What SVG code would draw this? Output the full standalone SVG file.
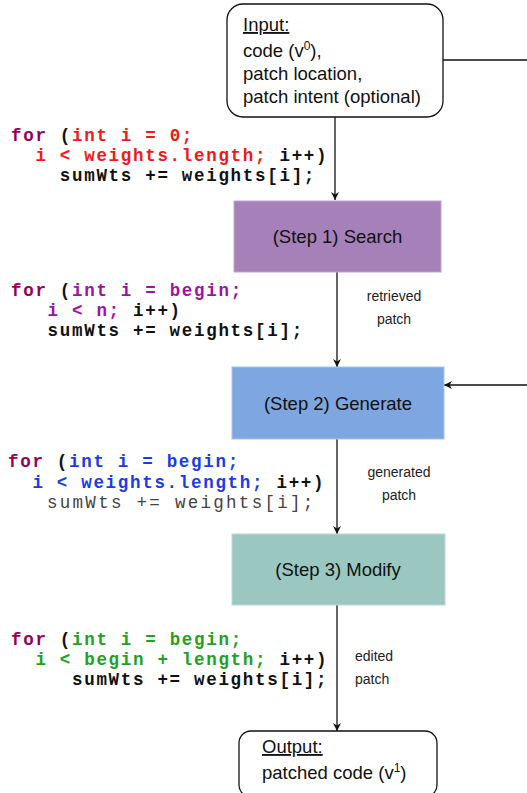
<svg xmlns="http://www.w3.org/2000/svg" width="527" height="793" viewBox="0 0 527 793">
<style>
.lbl{font-family:"Liberation Sans",Arial,sans-serif;font-size:18.5px;fill:#111}
.ed{font-family:"Liberation Sans",Arial,sans-serif;font-size:14px;fill:#222}
.code{font-family:"Liberation Mono","Courier New",monospace;font-size:17.5px;letter-spacing:1.7px;font-weight:bold;fill:#111}
.kw{fill:#990055}
.red{fill:#f01818}
.pur{fill:#a010a8}
.blu{fill:#1a3ce8}
.grn{fill:#22a022}
.gray{font-weight:normal;fill:#444}
.conn{fill:none;stroke:#111;stroke-width:1.3}
</style>
<defs>
<marker id="arr" viewBox="0 0 10 10" refX="10" refY="5" markerWidth="8" markerHeight="8" markerUnits="userSpaceOnUse" orient="auto">
<path d="M0,0 L10,5 L0,10 L3,5 Z" fill="#111"/>
</marker>
</defs>

<g id="connectors">
<line class="conn" x1="335" y1="117" x2="335" y2="200" marker-end="url(#arr)"/>
<line class="conn" x1="337" y1="272" x2="337" y2="367" marker-end="url(#arr)"/>
<line class="conn" x1="337" y1="439" x2="337" y2="534" marker-end="url(#arr)"/>
<line class="conn" x1="337" y1="605" x2="337" y2="731" marker-end="url(#arr)"/>
<path class="conn" d="M443,60 L532,60 L532,385 L444,385" marker-end="url(#arr)"/>
<text class="ed" x="394" y="301" text-anchor="middle">retrieved</text>
<text class="ed" x="394" y="324" text-anchor="middle">patch</text>
<text class="ed" x="399" y="477" text-anchor="middle">generated</text>
<text class="ed" x="399" y="500" text-anchor="middle">patch</text>
<text class="ed" x="355" y="661">edited</text>
<text class="ed" x="355" y="684">patch</text>
</g>

<g id="input">
<rect x="227" y="4" width="216" height="113" rx="16" fill="#fff" stroke="#111" stroke-width="1.3"/>
<text class="lbl" x="243" y="31" text-decoration="underline">Input:</text>
<text class="lbl" x="243" y="57">code (v<tspan font-size="12" dy="-7">0</tspan><tspan dy="7">),</tspan></text>
<text class="lbl" x="243" y="80">patch location,</text>
<text class="lbl" x="243" y="103">patch intent (optional)</text>
</g>

<g id="step1">
<rect x="234" y="201" width="207" height="71" fill="#A680B8" stroke="#c2a6d0" stroke-width="1"/>
<text class="lbl" x="337.5" y="243" text-anchor="middle">(Step 1) Search</text>
</g>

<g id="step2">
<rect x="232" y="367" width="212" height="72" fill="#7EA6E0" stroke="#a9c4ec" stroke-width="1"/>
<text class="lbl" x="338" y="410" text-anchor="middle">(Step 2) Generate</text>
</g>

<g id="step3">
<rect x="232" y="534" width="213" height="71" fill="#9AC7BF" stroke="#bcdad4" stroke-width="1"/>
<text class="lbl" x="338" y="576" text-anchor="middle">(Step 3) Modify</text>
</g>

<g id="output">
<rect x="239" y="731" width="198" height="66" rx="12" fill="#fff" stroke="#111" stroke-width="1.3"/>
<text class="lbl" x="262" y="753" text-decoration="underline">Output:</text>
<text class="lbl" x="262" y="779">patched code (v<tspan font-size="12" dy="-7">1</tspan><tspan dy="7">)</tspan></text>
</g>

<g id="code1">
<text class="code" x="11" y="141"><tspan class="kw">for</tspan> (<tspan class="red">int i = 0;</tspan></text>
<text class="code" x="35.4" y="161"><tspan class="red">i &lt; weights.length;</tspan> i++)</text>
<text class="code" x="59.8" y="181">sumWts += weights[i];</text>
</g>

<g id="code2">
<text class="code" x="11" y="296"><tspan class="kw">for</tspan> (<tspan class="pur">int i = begin;</tspan></text>
<text class="code" x="47.6" y="316"><tspan class="pur">i &lt; n;</tspan> i++)</text>
<text class="code" x="47.6" y="336">sumWts += weights[i];</text>
</g>

<g id="code3">
<text class="code" x="8" y="467"><tspan class="kw">for</tspan> (<tspan class="blu">int i = begin;</tspan></text>
<text class="code" x="32.4" y="488"><tspan class="blu">i &lt; weights.length;</tspan> i++)</text>
<text class="code gray" x="47" y="508" textLength="268" lengthAdjust="spacing">sumWts += weights[i];</text>
</g>

<g id="code4">
<text class="code" x="11" y="645"><tspan class="kw">for</tspan> (<tspan class="grn">int i = begin;</tspan></text>
<text class="code" x="35.4" y="665"><tspan class="grn">i &lt; begin + length;</tspan> i++)</text>
<text class="code" x="72" y="685">sumWts += weights[i];</text>
</g>
</svg>
